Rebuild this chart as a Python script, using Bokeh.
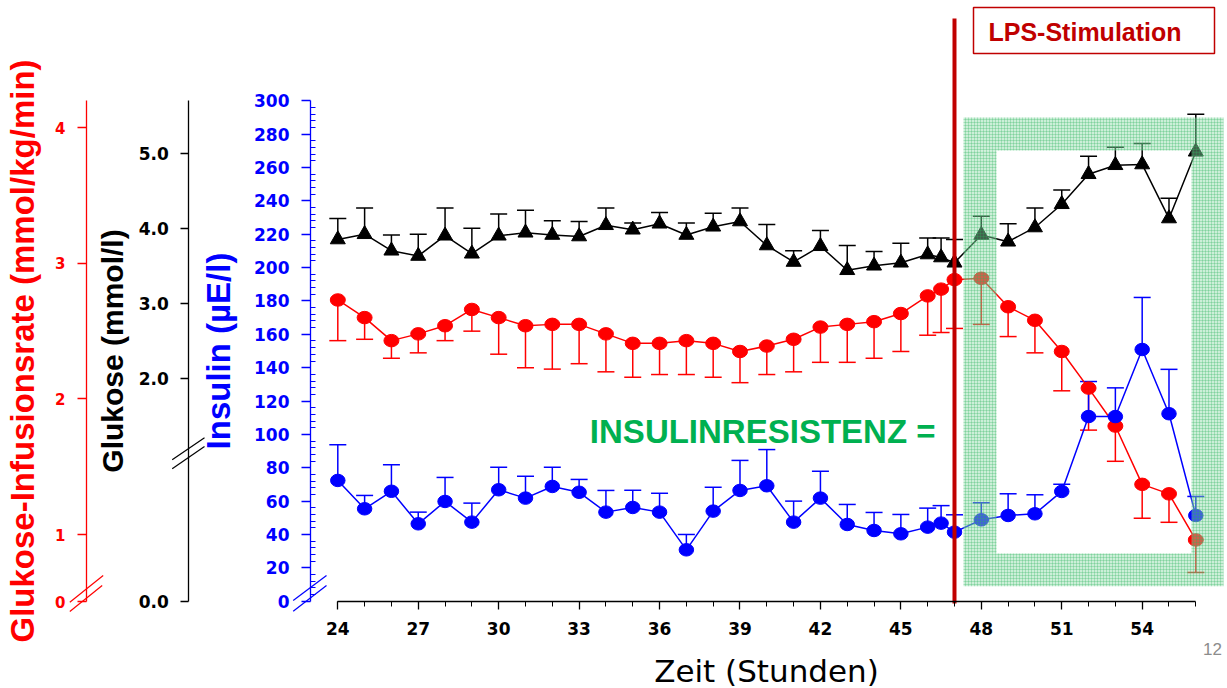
from bokeh.plotting import figure
from bokeh.models import (Range1d, LinearAxis, FixedTicker, CustomJSTickFormatter,
                          ColumnDataSource, Whisker, TeeHead)
from bokeh.core.properties import value
from bokeh.embed import file_html
from bokeh.resources import INLINE

# ---------------- data ----------------
hours = [24, 25, 26, 27, 28, 29, 30, 31, 32, 33, 34, 35, 36, 37, 38, 39, 40, 41,
         42, 43, 44, 45, 46, 46.5, 47, 48, 49, 50, 51, 52, 53, 54, 55, 56]

glucose = [3.85, 3.92, 3.70, 3.63, 3.90, 3.66, 3.90, 3.94, 3.91, 3.89, 4.04, 3.98,
           4.06, 3.91, 4.02, 4.09, 3.77, 3.55, 3.76, 3.44, 3.50, 3.54, 3.65, 3.61,
           3.54, 3.91, 3.82, 4.01, 4.32, 4.72, 4.84, 4.85, 4.13, 5.02]
glucose_sem = [0.28, 0.35, 0.21, 0.29, 0.37, 0.34, 0.29, 0.30, 0.19, 0.20, 0.23, 0.09,
               0.15, 0.16, 0.18, 0.18, 0.28, 0.15, 0.21, 0.33, 0.19, 0.26, 0.22, 0.26,
               0.31, 0.25, 0.24, 0.26, 0.19, 0.24, 0.24, 0.28, 0.27, 0.50]

gir = [2.73, 2.60, 2.43, 2.48, 2.54, 2.66, 2.60, 2.54, 2.55, 2.55, 2.48, 2.41,
       2.41, 2.43, 2.41, 2.35, 2.39, 2.44, 2.53, 2.55, 2.57, 2.63, 2.76, 2.81,
       2.88, 2.89, 2.68, 2.58, 2.35, 2.08, 1.80, 1.37, 1.30, 0.96]
gir_sem = [0.30, 0.16, 0.13, 0.14, 0.11, 0.16, 0.27, 0.31, 0.33, 0.29, 0.28, 0.25,
           0.23, 0.25, 0.25, 0.23, 0.21, 0.24, 0.26, 0.28, 0.27, 0.28, 0.29, 0.32,
           0.36, 0.34, 0.22, 0.24, 0.29, 0.31, 0.26, 0.25, 0.21, 0.24]

insulin = [72.4, 55.4, 65.9, 46.4, 59.8, 47.4, 66.8, 61.8, 68.8, 65.3, 53.4, 56.2,
           53.4, 30.8, 54.0, 66.4, 69.2, 47.4, 61.8, 46.0, 42.4, 40.4, 44.4, 46.8,
           41.4, 48.8, 51.4, 52.4, 65.8, 110.7, 110.7, 150.9, 112.4, 51.4]
insulin_sem = [21.4, 8.0, 15.9, 7.0, 14.4, 11.4, 13.5, 13.1, 11.5, 7.7, 13.0, 10.3,
               11.3, 9.2, 14.3, 18.0, 21.7, 12.6, 16.1, 12.0, 10.8, 11.6, 11.4, 10.5,
               10.4, 10.2, 13.0, 11.4, 4.3, 21.0, 17.2, 31.2, 26.6, 11.4]

x_ticks = [24, 27, 30, 33, 36, 39, 42, 45, 48, 51, 54]
x_minor = list(range(24, 57))
ins_ticks = list(range(0, 301, 20))
ins_minor = [v for v in range(0, 301, 4) if v % 20]
glu_ticks = [2.0, 3.0, 4.0, 5.0]
gir_ticks = [1, 2, 3, 4]
lps_time = 47

# ---------------- canvas geometry ----------------
W, H = 1227, 688
X0, X1 = 11.420, 57.182          # hours at left / right edge of the frame
INS0, INS1 = -52.34, 360.13      # insulin at bottom / top
GLU0, GLU1 = -2.137, 7.036       # glucose at bottom / top
GIR0, GIR1 = -0.1359, 4.939      # infusion rate at bottom / top


def px_x(px):
    return X0 + (X1 - X0) * px / W


def px_y(py, lo=INS0, hi=INS1):
    return hi - (hi - lo) * py / H


RED = "#FF0000"
BLUE = "#0000FF"
DARKRED = "#C00000"
GREEN = "#00B050"
TICKFONT = "DejaVu Sans"
LABELFONT = "Liberation Sans"

p = figure(width=W, height=H, x_range=Range1d(X0, X1), y_range=Range1d(INS0, INS1),
           x_axis_type=None, y_axis_type=None, toolbar_location=None,
           output_backend="svg", min_border=0, outline_line_color=None)
p.extra_y_ranges = {"glu": Range1d(GLU0, GLU1), "gir": Range1d(GIR0, GIR1)}


def style_axis(ax, color, size, tick_out=9):
    ax.axis_line_color = color
    ax.axis_line_width = 1.3
    ax.major_tick_line_color = color
    ax.major_tick_line_width = 1.3
    ax.minor_tick_line_color = color
    ax.major_tick_out = tick_out
    ax.major_tick_in = 0
    ax.major_label_text_font = TICKFONT
    ax.major_label_text_font_style = "bold"
    ax.major_label_text_font_size = size
    ax.major_label_text_color = color
    ax.major_label_standoff = 12
    ax.axis_label_text_color = color
    ax.axis_label_text_font = LABELFONT
    ax.axis_label_text_font_style = "bold"


# insulin axis (blue)
ax_ins = LinearAxis(fixed_location=px_x(310), bounds=(0, 300),
                    ticker=FixedTicker(ticks=ins_ticks, minor_ticks=ins_minor),
                    axis_label="Insulin (µE/l)")
style_axis(ax_ins, BLUE, "17px")
ax_ins.minor_tick_in = 5
ax_ins.minor_tick_out = 0
ax_ins.axis_label_text_font_size = "33px"
ax_ins.axis_label_standoff = 14
p.add_layout(ax_ins, "left")

# glucose axis (black) with broken scale
glu_break = px_y(601, GLU0, GLU1)
ax_glu = LinearAxis(y_range_name="glu", fixed_location=px_x(188.3),
                    bounds=(glu_break, px_y(100, GLU0, GLU1)),
                    ticker=FixedTicker(ticks=[glu_break] + glu_ticks, minor_ticks=[]),
                    formatter=CustomJSTickFormatter(
                        code="return tick < 0 ? '0.0' : tick.toFixed(1)"),
                    axis_label="Glukose (mmol/l)")
style_axis(ax_glu, "black", "17px", 8)
ax_glu.axis_label_text_font_size = "30px"
ax_glu.axis_label_standoff = 6
p.add_layout(ax_glu, "left")

# glucose infusion rate axis (red) with broken scale
gir_break = px_y(601, GIR0, GIR1)
ax_gir = LinearAxis(y_range_name="gir", fixed_location=px_x(86),
                    bounds=(gir_break, px_y(100, GIR0, GIR1)),
                    ticker=FixedTicker(ticks=[gir_break] + gir_ticks, minor_ticks=[]),
                    formatter=CustomJSTickFormatter(
                        code="return tick < 0.9 ? '0' : tick.toFixed(0)"),
                    axis_label="Glukose-Infusionsrate (mmol/kg/min)")
style_axis(ax_gir, RED, "15px", 9)
ax_gir.axis_label_text_font_size = "33px"
ax_gir.axis_label_standoff = 11
p.add_layout(ax_gir, "left")

# time axis
ax_x = LinearAxis(fixed_location=0, bounds=(24, 56),
                  ticker=FixedTicker(ticks=x_ticks, minor_ticks=x_minor),
                  axis_label="Zeit (Stunden)")
style_axis(ax_x, "black", "17px", 8)
ax_x.minor_tick_out = 5
ax_x.minor_tick_in = 0
ax_x.major_label_standoff = 13
ax_x.axis_label_text_font = TICKFONT
ax_x.axis_label_text_font_style = "normal"
ax_x.axis_label_text_font_size = "31px"
ax_x.axis_label_standoff = 14
p.add_layout(ax_x, "below")

# ---------------- series ----------------
src = ColumnDataSource(dict(
    h=hours,
    glu=glucose, glu_hi=[g + s for g, s in zip(glucose, glucose_sem)],
    gir=gir, gir_lo=[g - s for g, s in zip(gir, gir_sem)],
    ins=insulin, ins_hi=[g + s for g, s in zip(insulin, insulin_sem)],
))

for col, hi_col, rng, color in [("glu", "glu_hi", "glu", "black"),
                                ("gir", "gir_lo", "gir", RED),
                                ("ins", "ins_hi", "default", BLUE)]:
    w = Whisker(source=src, base="h", lower=col, upper=hi_col, dimension="height",
                y_range_name=rng, line_color=color, line_width=1.5,
                upper_head=TeeHead(size=17, line_color=color, line_width=1.5),
                lower_head=None)
    p.add_layout(w)

p.line("h", "glu", source=src, y_range_name="glu", line_color="black", line_width=1.5)
p.scatter("h", "glu", source=src, y_range_name="glu", marker="triangle", size=15,
          fill_color="black", line_color="black")

p.line("h", "gir", source=src, y_range_name="gir", line_color=RED, line_width=1.5)
p.ellipse("h", "gir", source=src, y_range_name="gir", width=15, height=12.5,
          width_units="screen", height_units="screen", fill_color=RED, line_color=RED)

p.line("h", "ins", source=src, line_color=BLUE, line_width=1.5)
p.ellipse("h", "ins", source=src, width=14.5, height=12.5,
          width_units="screen", height_units="screen", fill_color=BLUE, line_color=BLUE)

# ---------------- decorations ----------------
# axis break marks
brk = [((292.7, 600), (326, 575)), ((292.7, 610.7), (326, 585)),
       ((69.3, 601.7), (102.7, 575)), ((69.3, 611), (101.7, 585))]
p.segment([px_x(a[0]) for a, b in brk], [px_y(a[1]) for a, b in brk],
          [px_x(b[0]) for a, b in brk], [px_y(b[1]) for a, b in brk],
          line_color=[BLUE, BLUE, RED, RED], line_width=1.2)
brk_k = [((171.7, 459.3), (204, 437.3)), ((171.7, 468.3), (204, 446))]
p.segment([px_x(a[0]) for a, b in brk_k], [px_y(a[1]) for a, b in brk_k],
          [px_x(b[0]) for a, b in brk_k], [px_y(b[1]) for a, b in brk_k],
          line_color="black", line_width=1.2)

# hatched frame around the post-LPS period
ox0, ox1, oy0, oy1 = px_x(963), px_x(1223), px_y(585.7), px_y(117)
ix0, ix1, iy0, iy1 = px_x(996), px_x(1191), px_y(553), px_y(150)
p.quad(left=[ox0, ox0, ox0, ix1], right=[ox1, ox1, ix0, ox1],
       bottom=[iy1, oy0, iy0, iy0], top=[oy1, iy0, iy1, iy1],
       fill_color="#8FDCA8", fill_alpha=0.45, line_color=None,
       hatch_pattern="cross", hatch_color="#2DB35A", hatch_alpha=0.35,
       hatch_scale=3, hatch_weight=0.8)

# LPS line
p.segment([lps_time], [px_y(603)], [lps_time], [px_y(18)], line_color=DARKRED,
          line_width=4)

# LPS box
p.quad(left=[px_x(973)], right=[px_x(1214)], top=[px_y(7)], bottom=[px_y(53)],
       fill_color="white", line_color=DARKRED, line_width=1.5)
p.text(x=[px_x(988)], y=[px_y(31)], text=["LPS-Stimulation"], text_align="left",
       text_baseline="middle", text_font=value(LABELFONT), text_font_style="bold",
       text_font_size="25px", text_color=DARKRED)

p.text(x=[px_x(935)], y=[px_y(431)], text=["INSULINRESISTENZ ="], text_align="right",
       text_baseline="middle", text_font=value(LABELFONT), text_font_style="bold",
       text_font_size="33px", text_color=GREEN)

p.text(x=[px_x(1212)], y=[px_y(648)], text=["12"], text_align="center",
       text_baseline="middle", text_font=value(LABELFONT),
       text_font_size="17px", text_color="#8C8C8C")

open("out.html", "w").write(file_html(p, INLINE))
